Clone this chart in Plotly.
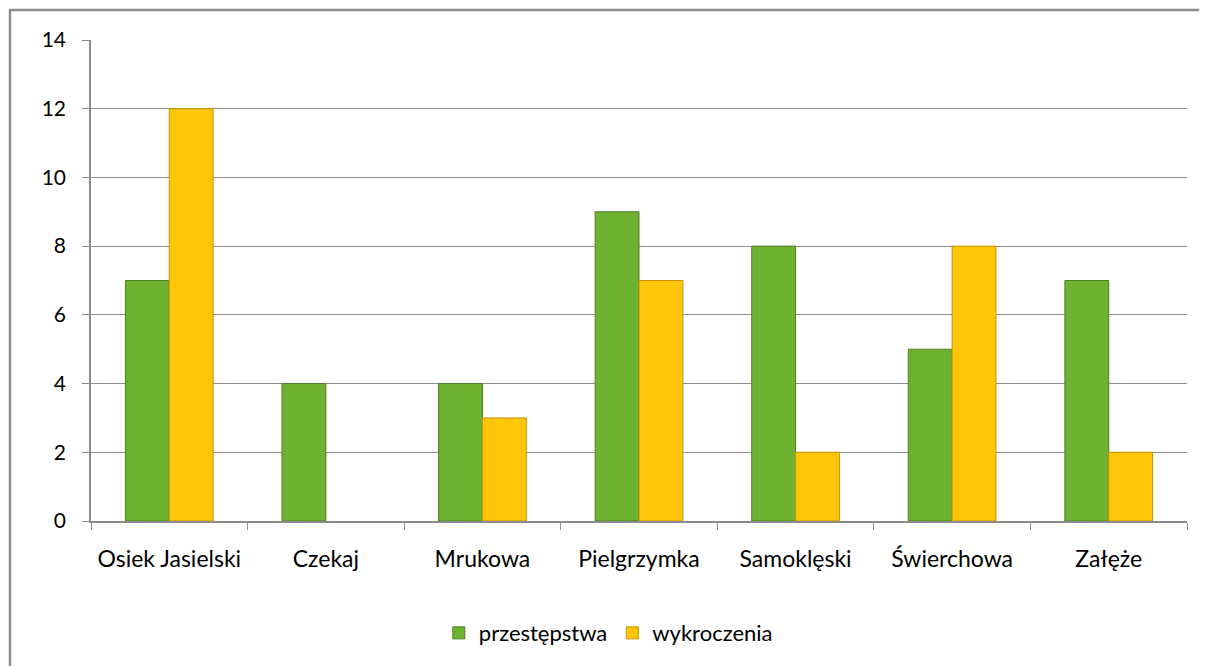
"""Wykres słupkowy: przestępstwa i wykroczenia wg sołectw."""

import plotly.graph_objects as go

# dane
solectwa = ["Osiek Jasielski", "Czekaj", "Mrukowa", "Pielgrzymka",
            "Samoklęski", "Świerchowa", "Załęże"]
przestepstwa = [7, 4, 4, 9, 8, 5, 7]
wykroczenia = [12, None, 3, 7, 2, 8, 2]
y_ticks = [0, 2, 4, 6, 8, 10, 12, 14]

FONT = "Lato, Calibri, 'Open Sans', sans-serif"

fig = go.Figure()

fig.add_trace(go.Bar(
    x=solectwa,
    y=przestepstwa,
    name="przestępstwa",
    marker=dict(color="#6fb231", line=dict(color="#4d7f1f", width=1)),
))
fig.add_trace(go.Bar(
    x=solectwa,
    y=wykroczenia,
    name="wykroczenia",
    marker=dict(color="#ffc60a", line=dict(color="#c99400", width=1)),
))

# ramka wykresu (jak w Excelu)
fig.add_shape(
    type="rect", xref="paper", yref="paper",
    x0=-0.0739, x1=1.2, y0=-0.6, y1=1.0624,
    line=dict(color="#8c8c8c", width=2.5),
    layer="below",
)

# strona ma 8px marginesu body, więc figura jest o tyle mniejsza
fig.update_layout(
    width=1199,
    height=658,
    paper_bgcolor="white",
    plot_bgcolor="white",
    margin=dict(l=83, r=20, t=32, b=145),
    barmode="group",
    bargap=0.44,
    bargroupgap=0,
    font=dict(family=FONT, size=21, color="#000000"),
    showlegend=True,
    legend=dict(
        orientation="h",
        xanchor="center",
        x=0.472,
        yanchor="middle",
        y=-0.233,
        font=dict(size=22),
        itemwidth=30,
        traceorder="normal",
    ),
    xaxis=dict(
        showgrid=False,
        showline=True,
        linecolor="#8c8c8c",
        linewidth=1.5,
        ticks="outside",
        tickson="boundaries",
        ticklen=7,
        tickcolor="#8c8c8c",
        tickfont=dict(size=23),
        ticklabelstandoff=17,
        zeroline=False,
    ),
    yaxis=dict(
        range=[0, 14],
        tickvals=y_ticks,
        showgrid=True,
        gridcolor="#8c8c8c",
        gridwidth=1.2,
        showline=True,
        linecolor="#8c8c8c",
        linewidth=1.5,
        ticks="outside",
        ticklen=7,
        tickcolor="#8c8c8c",
        tickfont=dict(size=21),
        ticklabelstandoff=12,
        zeroline=False,
    ),
)

fig.write_html("out.html")
